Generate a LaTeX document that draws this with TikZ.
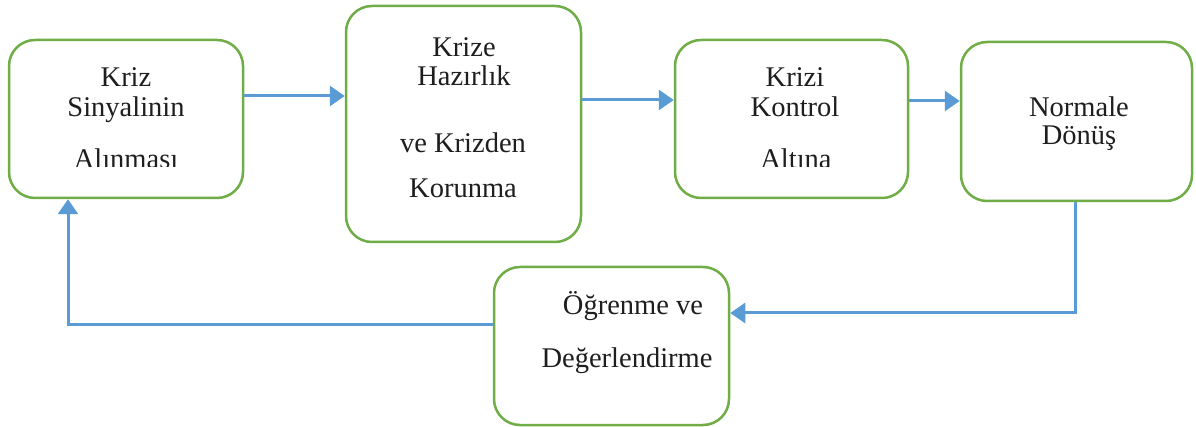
\documentclass[tikz,border=0pt]{standalone}
\usepackage{fontspec}
\setmainfont{Liberation Serif}
\usetikzlibrary{arrows.meta,calc}
\definecolor{boxgreen}{HTML}{70AD47}
\definecolor{arrblue}{HTML}{5B9BD5}
\definecolor{txt}{HTML}{1E1E1E}
\begin{document}
\begin{tikzpicture}[x=1pt,y=-1pt,
  stagebox/.style={draw=boxgreen,line width=2.5pt,rounded corners=26pt,inner sep=0pt,fill=white},
  lbl/.style={anchor=base,inner sep=0pt,text=txt,font=\fontsize{28.5}{33}\selectfont},
  arr/.style={draw=arrblue,line width=3pt,-{Triangle[length=15pt,width=20pt]}}]
\useasboundingbox (0,0) rectangle (1196,427);
% boxes
\node[stagebox,minimum width=234pt,minimum height=158pt] (b1) at (126,119) {};
\node[stagebox,minimum width=235pt,minimum height=236pt] (b2) at (463.5,124) {};
\node[stagebox,minimum width=233pt,minimum height=158pt] (b3) at (791.5,119) {};
\node[stagebox,minimum width=231pt,minimum height=159pt] (b4) at (1076.5,121.5) {};
\node[stagebox,minimum width=235pt,minimum height=158pt] (b5) at (611.5,346) {};
% texts
\node[lbl] (t1a) at (126,87) {Kriz};
\node[lbl] (t1b) at (126,117) {Sinyalinin};
\begin{scope}
\clip (0,0) rectangle (1196,167);
\node[lbl] (t1c) at (126,169) {Alınması};
\node[lbl] (t3c) at (796,169) {Altına};
\end{scope}
\node[lbl] (t2a) at (464,57) {Krize};
\node[lbl] (t2b) at (464,86) {Hazırlık};
\node[lbl] (t2c) at (463,153) {ve Krizden};
\node[lbl] (t2d) at (463,198) {Korunma};
\node[lbl] (t3a) at (795,87) {Krizi};
\node[lbl] (t3b) at (795,117) {Kontrol};
\node[lbl] (t4a) at (1079,117) {Normale};
\node[lbl] (t4b) at (1079,145) {Dönüş};
\node[lbl] (t5a) at (633,315) {Öğrenme ve};
\node[lbl] (t5b) at (627,367) {Değerlendirme};
% connectors
\draw[arr] ([yshift=23pt]b1.east) -- ([yshift=23pt]b1.east -| b2.west);
\draw[arr] ([yshift=24pt]b2.east) -- ([yshift=24pt]b2.east -| b3.west);
\draw[arr] ([yshift=18pt]b3.east) -- ([yshift=18pt]b3.east -| b4.west);
\draw[arr] ([xshift=-1.5pt]b4.south) |- ([yshift=33pt]b5.east);
\draw[arr] ([yshift=21pt]b5.west) -| ([xshift=-58pt]b1.south);
\end{tikzpicture}
\end{document}
